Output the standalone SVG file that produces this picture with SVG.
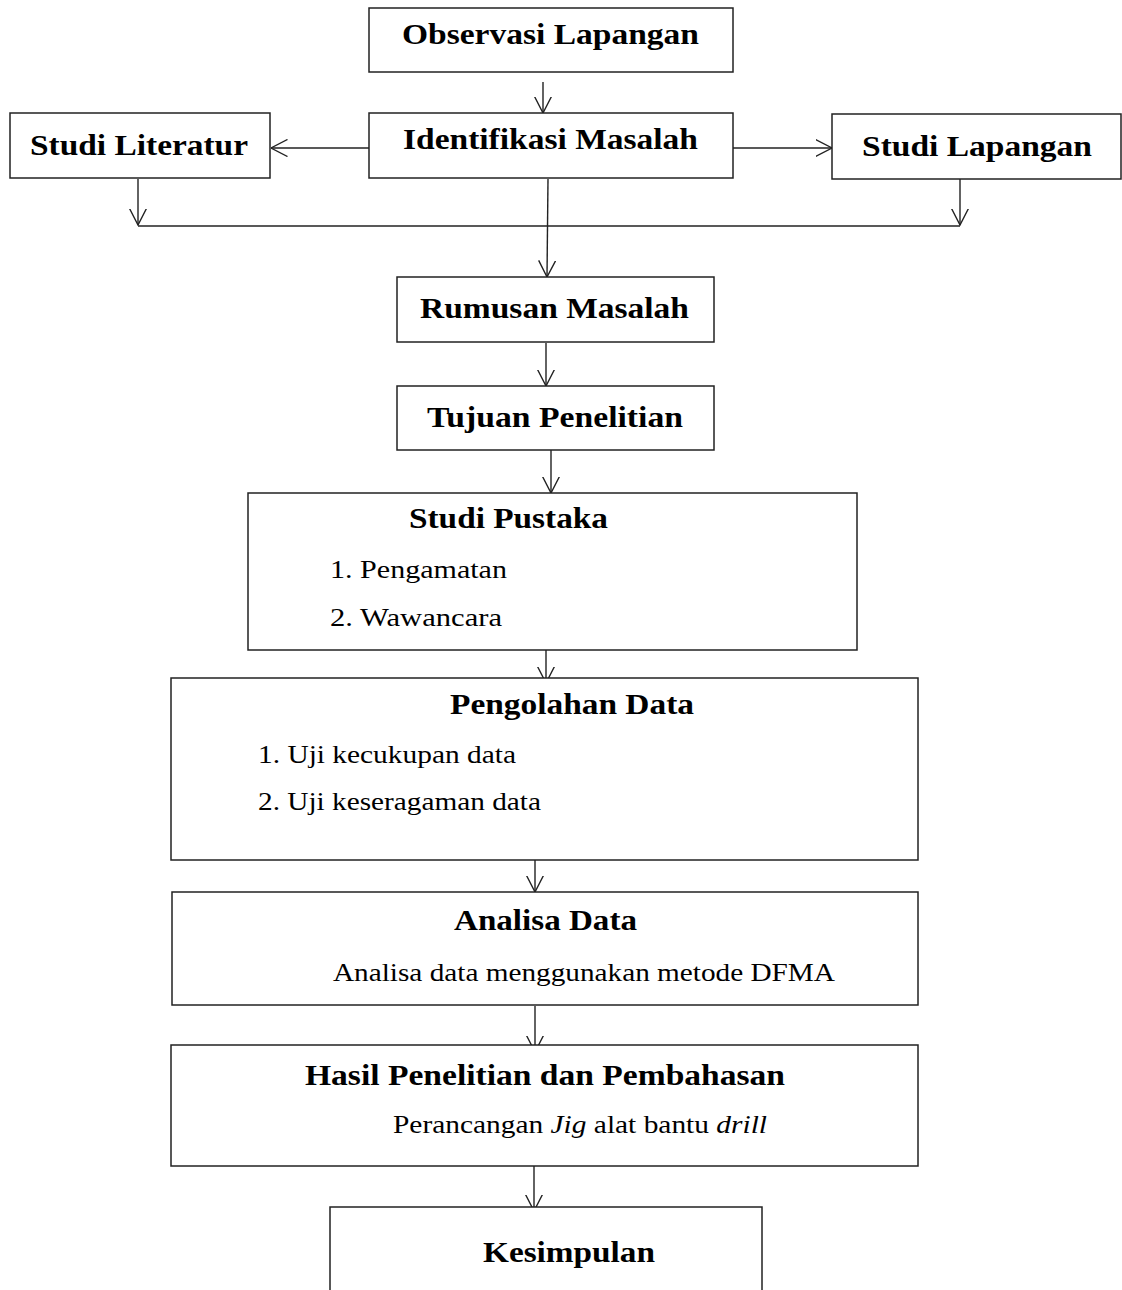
<svg xmlns="http://www.w3.org/2000/svg" width="1122" height="1290" viewBox="0 0 1122 1290">
<style>
.box{fill:#fff;stroke:#222;stroke-width:1.5}
.t{font-family:'Liberation Serif','Times New Roman',Times,'Nimbus Roman',serif;font-weight:700;font-size:30px;fill:#000}
.r{font-family:'Liberation Serif','Times New Roman',Times,'Nimbus Roman',serif;font-weight:400;font-size:26px;fill:#000}
.c{fill:none;stroke:#222;stroke-width:1.4}
</style>
<defs>
<marker id="ah" markerUnits="userSpaceOnUse" viewBox="0 0 17 18" refX="16.5" refY="9" markerWidth="17" markerHeight="18" orient="auto">
<path d="M0,0.5 L16.5,9 L0,17.5" fill="none" stroke="#222" stroke-width="1.4"/>
</marker>
</defs>
<rect width="1122" height="1290" fill="#fff"/>
<g id="connectors">
<line class="c" x1="543" y1="82" x2="543" y2="113" marker-end="url(#ah)"/>
<line class="c" x1="369" y1="148" x2="271" y2="148" marker-end="url(#ah)"/>
<line class="c" x1="733" y1="148" x2="832" y2="148" marker-end="url(#ah)"/>
<line class="c" x1="138" y1="179" x2="138" y2="225" marker-end="url(#ah)"/>
<line class="c" x1="960" y1="179" x2="960" y2="225" marker-end="url(#ah)"/>
<line class="c" x1="138" y1="226" x2="960" y2="226"/>
<line class="c" x1="548" y1="179" x2="547" y2="277" marker-end="url(#ah)"/>
<line class="c" x1="546" y1="343" x2="546" y2="386" marker-end="url(#ah)"/>
<line class="c" x1="551" y1="450" x2="551" y2="493" marker-end="url(#ah)"/>
<line class="c" x1="546" y1="640" x2="546" y2="683" marker-end="url(#ah)"/>
<line class="c" x1="535" y1="848" x2="535" y2="892" marker-end="url(#ah)"/>
<line class="c" x1="535" y1="1006" x2="535" y2="1052" marker-end="url(#ah)"/>
<line class="c" x1="534" y1="1166" x2="534" y2="1211" marker-end="url(#ah)"/>
</g>
<g id="observasi">
<rect class="box" x="369" y="8" width="364" height="64"/>
<text class="t" x="402" y="44" textLength="297" lengthAdjust="spacingAndGlyphs">Observasi Lapangan</text>
</g>
<g id="identifikasi">
<rect class="box" x="369" y="113" width="364" height="65"/>
<text class="t" x="403" y="149" textLength="295" lengthAdjust="spacingAndGlyphs">Identifikasi Masalah</text>
</g>
<g id="studi-literatur">
<rect class="box" x="10" y="113" width="260" height="65"/>
<text class="t" x="30" y="155" textLength="218" lengthAdjust="spacingAndGlyphs">Studi Literatur</text>
</g>
<g id="studi-lapangan">
<rect class="box" x="832" y="114" width="289" height="65"/>
<text class="t" x="862" y="156" textLength="230" lengthAdjust="spacingAndGlyphs">Studi Lapangan</text>
</g>
<g id="rumusan">
<rect class="box" x="397" y="277" width="317" height="65"/>
<text class="t" x="420" y="318" textLength="269" lengthAdjust="spacingAndGlyphs">Rumusan Masalah</text>
</g>
<g id="tujuan">
<rect class="box" x="397" y="386" width="317" height="64"/>
<text class="t" x="427" y="427" textLength="256" lengthAdjust="spacingAndGlyphs">Tujuan Penelitian</text>
</g>
<g id="studi-pustaka">
<rect class="box" x="248" y="493" width="609" height="157"/>
<text class="t" x="409" y="528" textLength="199" lengthAdjust="spacingAndGlyphs">Studi Pustaka</text>
<text class="r" x="330" y="578" textLength="177" lengthAdjust="spacingAndGlyphs">1. Pengamatan</text>
<text class="r" x="330" y="626" textLength="172" lengthAdjust="spacingAndGlyphs">2. Wawancara</text>
</g>
<g id="pengolahan">
<rect class="box" x="171" y="678" width="747" height="182"/>
<text class="t" x="450" y="714" textLength="244" lengthAdjust="spacingAndGlyphs">Pengolahan Data</text>
<text class="r" x="258" y="763" textLength="258" lengthAdjust="spacingAndGlyphs">1. Uji kecukupan data</text>
<text class="r" x="258" y="810" textLength="283" lengthAdjust="spacingAndGlyphs">2. Uji keseragaman data</text>
</g>
<g id="analisa">
<rect class="box" x="172" y="892" width="746" height="113"/>
<text class="t" x="454" y="930" textLength="183" lengthAdjust="spacingAndGlyphs">Analisa Data</text>
<text class="r" x="333" y="981" textLength="502" lengthAdjust="spacingAndGlyphs">Analisa data menggunakan metode DFMA</text>
</g>
<g id="hasil">
<rect class="box" x="171" y="1045" width="747" height="121"/>
<text class="t" x="305" y="1085" textLength="480" lengthAdjust="spacingAndGlyphs">Hasil Penelitian dan Pembahasan</text>
<text class="r" x="393" y="1133" textLength="374" lengthAdjust="spacingAndGlyphs">Perancangan <tspan font-style="italic">Jig</tspan> alat bantu <tspan font-style="italic">drill</tspan></text>
</g>
<g id="kesimpulan">
<rect class="box" x="330" y="1207" width="432" height="120"/>
<text class="t" x="483" y="1262" textLength="172" lengthAdjust="spacingAndGlyphs">Kesimpulan</text>
</g>
</svg>
